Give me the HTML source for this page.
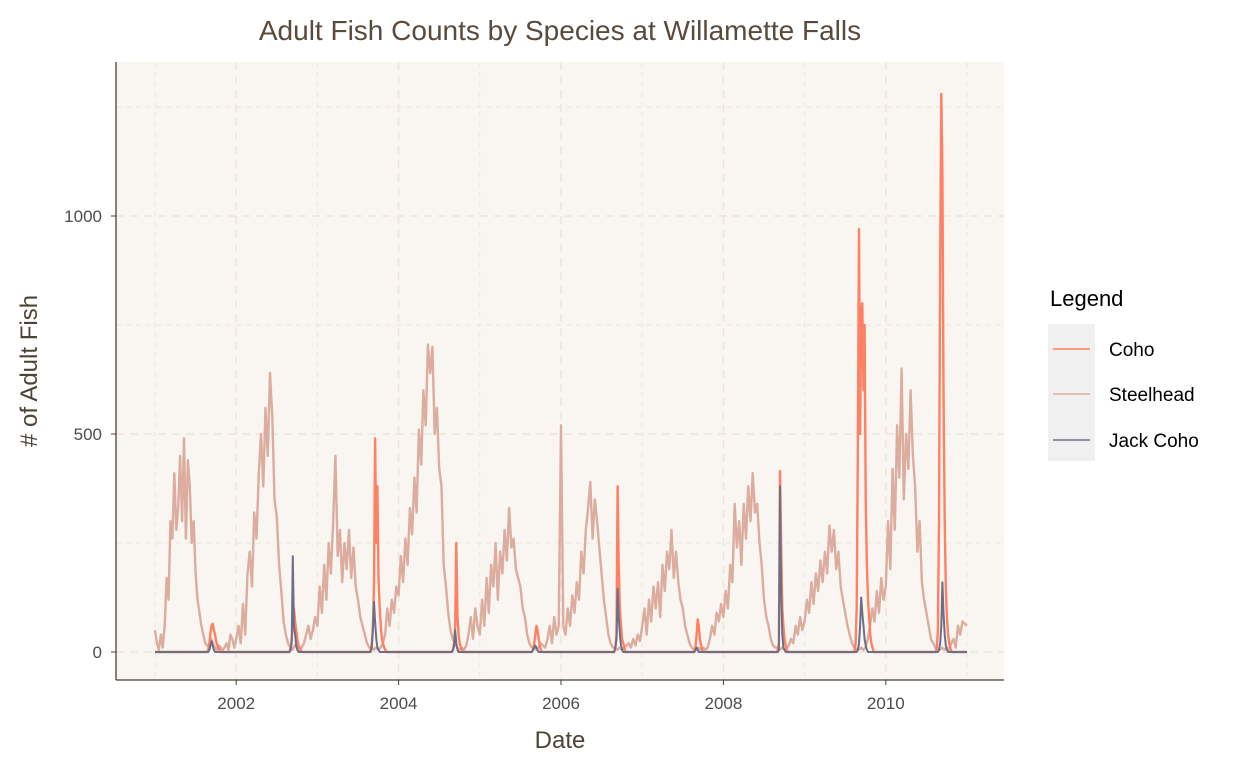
<!DOCTYPE html>
<html><head><meta charset="utf-8"><style>
body{margin:0;background:#fff;font-family:"Liberation Sans",sans-serif;}
svg text{font-family:"Liberation Sans",sans-serif;}
</style></head><body>
<svg id="chart" width="1248" height="768">
<text x="560" y="40" text-anchor="middle" font-size="28" fill="#5a4a3c">Adult Fish Counts by Species at Willamette Falls</text>
<rect x="116" y="62" width="888" height="618" fill="#f9f6f1"/>
<g id="grid"></g>
<g id="series"></g>
<line x1="116" y1="62" x2="116" y2="680" stroke="#4a3f35" stroke-width="1.3"/>
<line x1="116" y1="680" x2="1004" y2="680" stroke="#4a3f35" stroke-width="1.3"/>
<g id="ticks"></g>
<text x="560" y="748" text-anchor="middle" font-size="24" fill="#4d4438">Date</text>
<text transform="translate(37,371) rotate(-90)" text-anchor="middle" font-size="24" fill="#4d4438"># of Adult Fish</text>
<g>
<text x="1050" y="306" font-size="22" fill="#000">Legend</text>
<rect x="1048" y="324" width="47" height="137" fill="#f0f0f0"/>
<line x1="1053" y1="349" x2="1090" y2="349" stroke="#ff8062" stroke-width="1.5"/>
<text x="1109" y="356" font-size="19">Coho</text>
<line x1="1053" y1="394" x2="1090" y2="394" stroke="#dcac9f" stroke-width="1.5"/>
<text x="1109" y="401" font-size="19">Steelhead</text>
<line x1="1053" y1="440" x2="1090" y2="440" stroke="#6b7088" stroke-width="1.5"/>
<text x="1109" y="447" font-size="19">Jack Coho</text>
</g>
</svg>
<script>
const years=[2001,2002,2003,2004,2005,2006,2007,2008,2009,2010];
const xTicks=[2002,2004,2006,2008,2010];
const yTicks=[0,500,1000];
const steelhead=[
[50,20,5,40,10,60,170,120,300,260,410,280,330,450,300,490,260,440,380,250,300,180,120,90,60,40,20,15,10,30,20,10,5,15,10,5,10,20,5,40,30,10],
[30,60,20,110,40,180,230,150,320,260,410,500,380,560,450,640,540,350,310,200,140,70,40,20,10,5,15,10,5,10,20,40,60,30,50,80],
[60,150,90,200,120,250,180,300,450,220,280,160,250,190,280,170,240,150,120,80,60,40,20,10,10,5,10,5,10,20,40,100,60,120,90,150],
[130,220,160,260,200,330,270,400,320,510,430,600,520,705,640,700,500,560,420,380,200,150,90,50,30,20,10,5,10,5,15,40,80,30,100,60],
[40,120,60,170,90,200,150,250,120,230,180,280,210,330,240,260,190,170,150,100,80,40,20,10,10,5,10,20,15,10,30,60,20,80,40,60],
[520,60,40,100,60,130,90,160,120,230,180,280,330,390,260,350,300,240,180,120,80,40,20,10,10,5,10,5,10,15,20,10,30,15,40,25],
[60,100,40,120,70,150,100,160,80,200,140,230,190,280,170,230,160,120,100,60,40,20,10,5,5,10,5,10,5,10,30,60,40,90,70,110],
[80,140,100,200,160,340,240,300,200,340,260,380,300,410,320,340,250,200,120,80,60,30,15,10,10,5,10,5,10,15,30,20,60,40,80,50],
[70,120,90,160,110,180,140,210,160,230,180,290,230,280,190,230,150,120,90,60,40,20,10,5,5,10,5,10,30,60,100,70,140,90,170,120],
[150,300,190,420,280,520,400,650,350,500,420,600,450,380,230,300,160,120,90,60,30,20,10,5,5,10,5,10,5,20,30,10,60,40,70,65]];
const coho=[
[0,0,0,0,5,20,45,60,65,50,40,25,15,10,5,0],
[0,0,0,0,0,10,30,60,100,70,50,30,15,10,5,0],
[0,0,0,0,5,20,60,150,490,250,380,170,100,60,30,20,10,5,0],
[0,0,0,0,0,5,20,60,250,80,40,20,10,5,0],
[0,0,0,0,5,20,40,60,50,30,15,5,0],
[0,0,0,0,0,10,40,380,200,100,60,30,20,10,0],
[0,0,0,0,10,40,75,60,30,15,5,0],
[0,0,0,0,0,5,20,415,250,100,60,30,15,5,0],
[0,0,20,100,450,970,500,780,800,600,750,350,200,120,80,40,20,10,0],
[0,0,10,50,300,900,1280,1100,600,300,150,80,40,20,10,0]];
const jack=[
[0,0,0,0,0,5,15,25,15,5,0],
[0,0,0,0,0,5,20,220,60,40,15,5,0],
[0,0,0,0,0,10,50,115,70,30,10,5,0],
[0,0,0,0,0,5,15,50,20,5,0],
[0,0,0,0,5,10,15,10,5,0],
[0,0,0,0,0,10,30,145,80,40,15,5,0],
[0,0,0,0,5,10,5,0],
[0,0,0,0,0,0,5,380,150,40,10,5,0],
[0,0,0,0,5,20,60,125,90,60,30,15,5,0],
[0,0,0,0,5,20,60,160,90,40,15,5,0]];
const NS="http://www.w3.org/2000/svg";
function xs(t){return 155+(t-2001)*81.2;}
function ys(v){return 652-v*0.436;}
function mk(tag,attrs,parent){const e=document.createElementNS(NS,tag);for(const k in attrs)e.setAttribute(k,attrs[k]);parent.appendChild(e);return e;}
const grid=document.getElementById('grid'),ser=document.getElementById('series'),tk=document.getElementById('ticks');
for(let y=2001;y<=2011;y++){const maj=y%2===0;const l=mk('line',{x1:xs(y),x2:xs(y),y1:62,y2:680,stroke:'#ece6dc','stroke-width':maj?1.6:0.9,'stroke-dasharray':maj?'8,6':'5,5'},grid);

}
for(let v=0;v<=1250;v+=250){const maj=v%500===0;const l=mk('line',{x1:116,x2:1004,y1:ys(v),y2:ys(v),stroke:'#ece6dc','stroke-width':maj?1.6:0.9,'stroke-dasharray':maj?'8,6':'5,5'},grid);

}
xTicks.forEach(t=>{const e=mk('text',{x:xs(t),y:709,'text-anchor':'middle','font-size':17,fill:'#4d4d4d'},tk);e.textContent=t;


const m=mk('line',{x1:xs(t),x2:xs(t),y1:680,y2:685,stroke:'#4a3f35'},tk);

});
yTicks.forEach(v=>{const e=mk('text',{x:102,y:ys(v)+6,'text-anchor':'end','font-size':17,fill:'#4d4d4d'},tk);e.textContent=v;


const m=mk('line',{x1:111,x2:116,y1:ys(v),y2:ys(v),stroke:'#4a3f35'},tk);

});
let d='';years.forEach((yr,i)=>{const arr=steelhead[i];arr.forEach((v,j)=>{const t=yr+j/arr.length;d+=(d?'L':'M')+xs(t).toFixed(1)+','+ys(v).toFixed(1);});});
d+='L'+xs(2011).toFixed(1)+','+ys(60).toFixed(1);
const sp=mk('path',{d:d,fill:'none',stroke:'#dcac9f','stroke-width':2.4,'stroke-linejoin':'round'},ser);


function seasonPath(data,start){let p='M'+xs(2001).toFixed(1)+','+ys(0).toFixed(1);years.forEach((yr,i)=>{data[i].forEach((v,j)=>{const t=yr+start+j/72;p+='L'+xs(t).toFixed(1)+','+ys(v).toFixed(1);});});p+='L'+xs(2011).toFixed(1)+','+ys(0).toFixed(1);return p;}
const cp=mk('path',{d:seasonPath(coho,0.6),fill:'none',stroke:'#ff8062','stroke-width':2.4,'stroke-linejoin':'round'},ser);


const jp=mk('path',{d:seasonPath(jack,0.6),fill:'none',stroke:'#6b7088','stroke-width':2,'stroke-linejoin':'round'},ser);


</script>
</body></html>
